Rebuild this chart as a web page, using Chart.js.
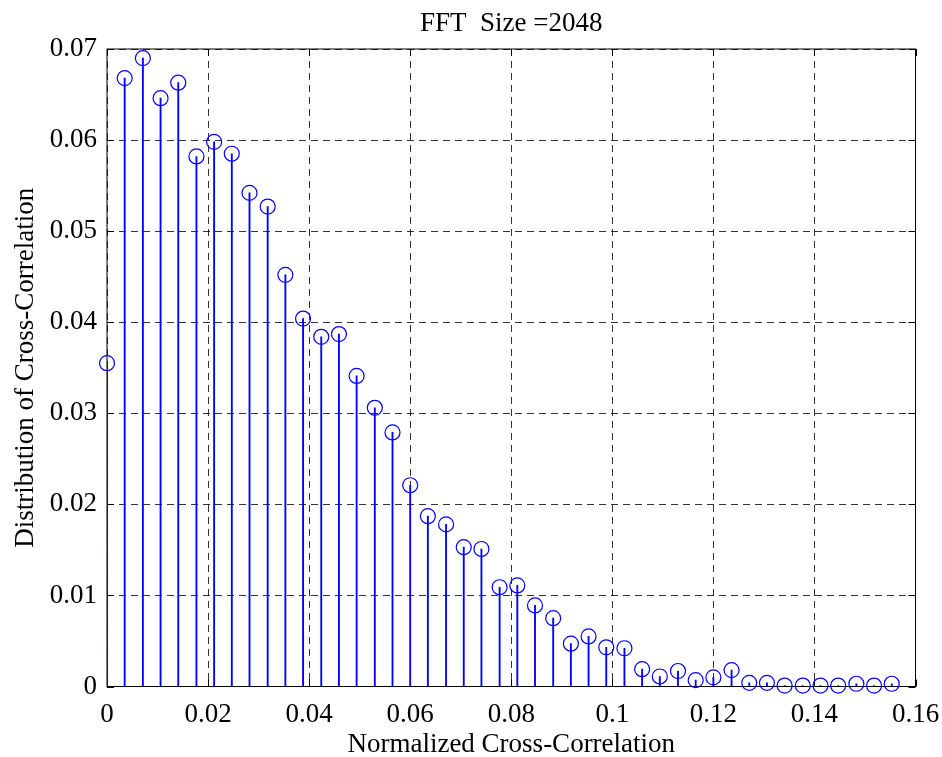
<!DOCTYPE html>
<html>
<head>
<meta charset="utf-8">
<script src="https://cdn.jsdelivr.net/npm/chart.js@4.4.0/dist/chart.umd.min.js"></script>
<style>
  html, body { margin: 0; padding: 0; background: #fff; }
  #wrap { width: 942px; height: 757px; }
</style>
</head>
<body>
<div id="wrap"><canvas id="stem-chart" width="942" height="757"></canvas></div>
<script>
// bin centres on the normalized cross-correlation axis
const binCenters = [
  0, 0.0035, 0.0071, 0.0106, 0.0141, 0.0177, 0.0212, 0.0247, 0.0282, 0.0318,
  0.0353, 0.0388, 0.0424, 0.0459, 0.0494, 0.0530, 0.0565, 0.0600, 0.0635, 0.0671,
  0.0706, 0.0741, 0.0777, 0.0812, 0.0847, 0.0883, 0.0918, 0.0953, 0.0988, 0.1024,
  0.1059, 0.1094, 0.1130, 0.1165, 0.1200, 0.1236, 0.1271, 0.1306, 0.1341, 0.1377,
  0.1412, 0.1447, 0.1483, 0.1518, 0.1553,
];

// distribution value of each bin
const distribution = [
  0.0355, 0.0668, 0.0690, 0.0646, 0.0663, 0.0582, 0.0598, 0.0585, 0.0542, 0.0527,
  0.0452, 0.0404, 0.0384, 0.0387, 0.0341, 0.0306, 0.0279, 0.0221, 0.0187, 0.0178,
  0.0153, 0.0151, 0.0109, 0.0111, 0.0089, 0.0075, 0.0047, 0.0055, 0.0043, 0.0042,
  0.0019, 0.0011, 0.0017, 0.0007, 0.0010, 0.0018, 0.0004, 0.0004, 0.0001, 0.0001,
  0.0001, 0.0001, 0.0003, 0.0001, 0.0003,
];

const xTicks = [0, 0.02, 0.04, 0.06, 0.08, 0.1, 0.12, 0.14, 0.16];
const xTickLabels = ["0", "0.02", "0.04", "0.06", "0.08", "0.1", "0.12", "0.14", "0.16"];
const yTicks = [0, 0.01, 0.02, 0.03, 0.04, 0.05, 0.06, 0.07];
const yTickLabels = ["0", "0.01", "0.02", "0.03", "0.04", "0.05", "0.06", "0.07"];

const serif = "'Liberation Serif', 'Times New Roman', serif";
const stemBlue = "#0000ff";

const points = binCenters.map((x, i) => ({ x: x, y: distribution[i] }));

// matlab-ish axes box with small inward tick marks on all four sides
const axesBox = {
  id: "axesBox",
  beforeDatasetsDraw(chart) {
    const { ctx, chartArea: a, scales } = chart;
    const tick = 7;
    ctx.save();
    ctx.strokeStyle = "#000";
    ctx.lineWidth = 1;
    ctx.beginPath();
    scales.x.ticks.forEach((t) => {
      const px = Math.round(scales.x.getPixelForValue(t.value)) + 0.5;
      ctx.moveTo(px, a.bottom);
      ctx.lineTo(px, a.bottom - tick);
      ctx.moveTo(px, a.top);
      ctx.lineTo(px, a.top + tick);
    });
    scales.y.ticks.forEach((t) => {
      const py = Math.round(scales.y.getPixelForValue(t.value)) + 0.5;
      ctx.moveTo(a.left, py);
      ctx.lineTo(a.left + tick, py);
      ctx.moveTo(a.right, py);
      ctx.lineTo(a.right - tick, py);
    });
    ctx.stroke();
    ctx.strokeRect(a.left, a.top, a.right - a.left, a.bottom - a.top);
    ctx.restore();
  },
};

const gridStyle = {
  color: "rgba(0,0,0,0.8)",
  lineWidth: 1,
  drawTicks: false,
  offset: false,
};

new Chart(document.getElementById("stem-chart"), {
  type: "bar",
  data: {
    datasets: [
      {
        type: "line",
        data: points,
        showLine: false,
        pointStyle: "circle",
        pointRadius: 7.5,
        pointHoverRadius: 7.5,
        pointBorderColor: stemBlue,
        pointBackgroundColor: "rgba(0,0,0,0)",
        pointBorderWidth: 1.2,
        clip: false,
        order: 0,
      },
      {
        type: "bar",
        data: points,
        backgroundColor: stemBlue,
        borderWidth: 0,
        barThickness: 1.2,
        order: 1,
      },
    ],
  },
  options: {
    responsive: false,
    animation: false,
    events: [],
    layout: {
      padding: { top: 0, right: 26.5, bottom: 0, left: 0 },
    },
    scales: {
      x: {
        type: "linear",
        min: 0,
        max: 0.16,
        offset: false,
        afterBuildTicks: (scale) => {
          scale.ticks = xTicks.map((v) => ({ value: v }));
        },
        afterFit: (scale) => {
          scale.height = 70.5;
          scale.paddingLeft = 0;
          scale.paddingRight = 0;
        },
        grid: { ...gridStyle },
        border: { display: false, dash: [7, 5] },
        ticks: {
          color: "#000",
          padding: 12,
          maxRotation: 0,
          autoSkip: false,
          font: { family: serif, size: 27 },
          callback: (value, index) => xTickLabels[index],
        },
        title: {
          display: true,
          text: "Normalized Cross-Correlation",
          color: "#000",
          font: { family: serif, size: 27, lineHeight: 0.9 },
          padding: { top: 0, bottom: 0 },
        },
      },
      y: {
        min: 0,
        max: 0.07,
        afterBuildTicks: (scale) => {
          scale.ticks = yTicks.map((v) => ({ value: v }));
        },
        afterFit: (scale) => {
          scale.width = 107;
        },
        grid: { ...gridStyle },
        border: { display: false, dash: [7, 5] },
        ticks: {
          color: "#000",
          padding: 10,
          autoSkip: false,
          font: { family: serif, size: 27 },
          callback: (value, index) => yTickLabels[index],
        },
        title: {
          display: true,
          text: "Distribution of Cross-Correlation",
          color: "#000",
          font: { family: serif, size: 27, lineHeight: 1 },
          padding: { top: 12, bottom: 0 },
        },
      },
    },
    plugins: {
      legend: { display: false },
      tooltip: { enabled: false },
      title: {
        display: true,
        fullSize: false,
        text: "FFT  Size =2048",
        color: "#000",
        font: { family: serif, size: 27, weight: "normal", lineHeight: 1 },
        padding: { top: 10, bottom: 12 },
      },
    },
  },
  plugins: [axesBox],
});
</script>
</body>
</html>
